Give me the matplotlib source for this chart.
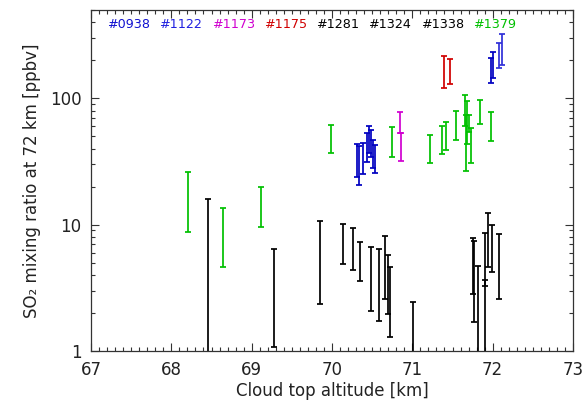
import matplotlib
matplotlib.use("Agg")
import matplotlib.pyplot as plt
from matplotlib.ticker import FixedLocator, FixedFormatter, LogLocator, NullFormatter, MultipleLocator

plt.rcParams['font.family'] = ['DejaVu Sans']

# ---- data: (altitude, lower, upper) per orbit ----
orbit_labels = ["#0938", "#1122", "#1173", "#1175", "#1281", "#1324", "#1338", "#1379"]
orbit_colors = ["#1010d0", "#2020e0", "#d000d0", "#d00000", "#000000", "#000000", "#000000", "#00c000"]

blue_a_x  = [70.315, 70.333, 70.39, 70.44, 70.457, 70.486, 70.514, 70.539, 71.98, 72.004]
blue_a_lo = [23.9, 20.7, 25.1, 31.2, 36.9, 34.4, 28.0, 25.7, 132.1, 145.8]
blue_a_hi = [43.1, 42.1, 44.3, 52.9, 60.4, 55.8, 46.6, 42.7, 209.8, 231.0]

blue_b_x  = [72.075, 72.113]
blue_b_lo = [173.6, 183.3]
blue_b_hi = [273.6, 320.6]

magenta_x  = [70.85, 70.859]
magenta_lo = [53.2, 31.8]
magenta_hi = [77.5, 53.2]

red_x  = [71.394, 71.469]
red_lo = [120.6, 130.7]
red_hi = [217.5, 204.5]

green_x  = [68.211, 68.639, 69.112, 69.99, 70.747, 71.224, 71.373, 71.423, 71.548,
            71.66, 71.684, 71.672, 71.702, 71.727, 71.839, 71.98]
green_lo = [8.77, 4.64, 9.5, 37.0, 34.4, 30.5, 36.3, 39.0, 46.6,
            60.4, 43.5, 26.5, 53.8, 30.6, 62.3, 46.3]
green_hi = [25.9, 13.58, 19.79, 61.5, 59.3, 51.0, 60.1, 64.9, 79.9,
            106.2, 95.2, 74.3, 74.3, 58.7, 96.5, 77.9]

black_x  = [68.453, 69.278, 69.851, 70.137, 70.265, 70.349, 70.486, 70.589, 70.656,
            70.701, 70.726, 71.008, 71.755, 71.763, 71.814, 71.905, 71.901, 71.946,
            71.992, 72.083]
black_lo = [0.5, 1.08, 2.35, 4.90, 4.34, 3.59, 2.06, 1.74, 2.56,
            1.96, 1.30, 0.5, 2.81, 1.69, 0.5, 3.28, 0.5, 4.64,
            4.24, 2.59]
black_hi = [16.0, 6.40, 10.72, 10.04, 9.43, 7.23, 6.60, 6.37, 8.07,
            5.77, 4.64, 2.45, 7.87, 7.41, 4.72, 8.57, 3.64, 12.4,
            9.86, 8.37]

fig = plt.figure(figsize=(5.87, 4.08), dpi=100)
ax = fig.add_axes([91/587, 1-351/408, (573-91)/587, (351-10)/408])

def draw(xs, lo, hi, color):
    for x, l, h in zip(xs, lo, hi):
        mid = (l * h) ** 0.5
        ax.errorbar([x], [mid], yerr=[[mid - l], [h - mid]], fmt='none',
                    ecolor=color, elinewidth=1.25, capsize=2.0, capthick=1.25)

draw(green_x, green_lo, green_hi, "#00c000")
draw(black_x, black_lo, black_hi, "#000000")
draw(magenta_x, magenta_lo, magenta_hi, "#d000d0")
draw(red_x, red_lo, red_hi, "#d00000")
draw(blue_a_x, blue_a_lo, blue_a_hi, "#0000c0")
draw(blue_b_x, blue_b_lo, blue_b_hi, "#3030d8")

ax.set_yscale('log')
ax.set_xlim(67, 73)
ax.set_ylim(1, 500)
ax.xaxis.set_major_locator(MultipleLocator(1))
ax.xaxis.set_minor_locator(MultipleLocator(0.1))
ax.yaxis.set_major_locator(FixedLocator([1, 10, 100]))
ax.yaxis.set_major_formatter(FixedFormatter(["1", "10", "100"]))
ax.yaxis.set_minor_locator(LogLocator(base=10, subs=range(2, 10)))
ax.yaxis.set_minor_formatter(NullFormatter())

ax.tick_params(which='both', direction='in', top=True, right=True, width=0.8, color='#333333')
ax.tick_params(which='major', length=6, labelsize=12, pad=7, labelcolor='#222222')
ax.tick_params(which='minor', length=3)
for s in ax.spines.values():
    s.set_linewidth(0.9)
    s.set_color('#333333')

ax.set_xlabel("Cloud top altitude [km]", fontsize=12, color='#222222', labelpad=2)
ax.set_ylabel("SO\u2082 mixing ratio at 72 km [ppbv]", fontsize=12, color='#222222', labelpad=6)

for i, (lab, col) in enumerate(zip(orbit_labels, orbit_colors)):
    ax.text((107 - 91 + i * 52.3) / (573 - 91), 1 - (24 - 10) / (351 - 10), lab,
            transform=ax.transAxes, color=col, fontsize=9.2, ha='left', va='center')

fig.savefig("out.png", dpi=100)
